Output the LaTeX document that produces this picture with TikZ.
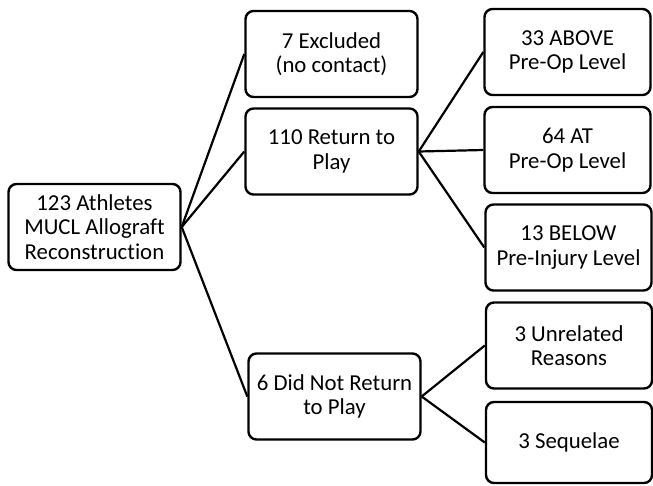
\documentclass[tikz,border=0pt]{standalone}
\usepackage{fontspec}
\setmainfont{Carlito}[Ligatures=NoCommon]
\usepackage{tikz}

\begin{document}
\begin{tikzpicture}[x=1pt,y=-1pt,font=\fontsize{22.8}{24.5}\selectfont,
    box/.style={draw=black,fill=white,line width=2.4pt,rounded corners=8pt,align=center,
                minimum height=86pt,minimum width=172pt,inner sep=2pt},
    smallbox/.style={box,minimum width=166pt},
    link/.style={line width=2.2pt,black}]
  \useasboundingbox (0,0) rectangle (653,485);
  \node[box] (root) at (94.5,227) {123 Athletes\\MUCL Allograft\\Reconstruction};
  \node[box] (excl) at (331.5,54)  {7 Excluded\\(no contact)};
  \node[box] (rtp)  at (331.5,151.5) {110 Return to\\Play};
  \node[box] (dnr)  at (334.5,396.5) {6 Did Not Return\\to Play};
  \node[smallbox] (above) at (567.5,52)  {33 ABOVE\\Pre-Op Level};
  \node[smallbox] (at)    at (567.5,150) {64 AT\\Pre-Op Level};
  \node[smallbox] (below) at (568.5,247.5) {13 BELOW\\Pre-Injury Level};
  \node[smallbox] (unrel) at (569,345.5) {3 Unrelated\\Reasons};
  \node[smallbox,minimum height=81pt] (seq) at (569,442.5) {3 Sequelae};
  \draw[link] (root.east) -- (excl.west);
  \draw[link] (root.east) -- (rtp.west);
  \draw[link] (root.east) -- (dnr.west);
  \draw[link] (rtp.east) -- (above.west);
  \draw[link] (rtp.east) -- (at.west);
  \draw[link] (rtp.east) -- (below.west);
  \draw[link] (dnr.east) -- (unrel.west);
  \draw[link] (dnr.east) -- (seq.west);
\end{tikzpicture}
\end{document}
